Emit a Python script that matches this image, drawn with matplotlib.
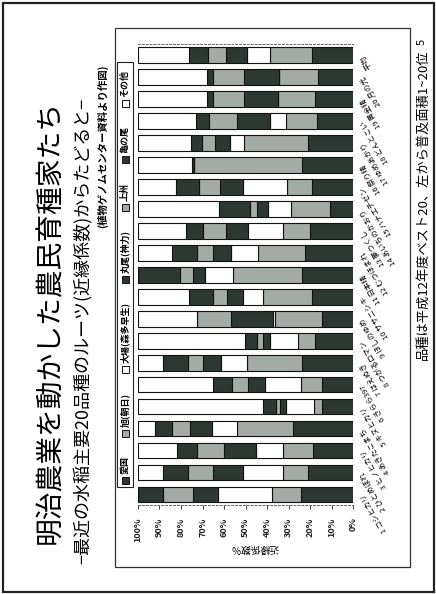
import numpy as np
import matplotlib
matplotlib.use("Agg")
import matplotlib.pyplot as plt
from matplotlib.patches import Rectangle

plt.rcParams['font.family'] = ['Noto Sans CJK JP', 'DejaVu Sans']

W, H = 436, 594

# varieties, rank 1 at the bottom of the (rotated) slide
varieties = ['1 コシヒカリ', '2 ひとめぼれ', '3 ヒノヒカリ', '4 あきたこまち', '5 キヌヒカリ',
             '6 きらら397', '7 はえぬき', '8 つがるロマン', '9 ほしのゆめ', '10 ササニシキ',
             '11 日本晴', '12 むつほまれ', '13 夢つくし', '14 あいちのかおり', '15 ハナエチゼン',
             '16 祭り晴', '17 ゆめあかり', '18 どんとこい', '19 黄金晴', '20 月の光', '平均']

groups = ['愛国', '旭(朝日)', '大場(森多早生)', '丸尾(神力)', '上州', '亀の尾', 'その他']

# 近縁係数 (%) per ancestor, same order as varieties
aikoku = [24.2, 20.9, 18.6, 27.9, 14.4, 14.4, 23.7, 17.7, 14.4, 19.1, 23.7,
          22.3, 20.0, 10.7, 19.1, 23.7, 20.9, 16.7, 17.7, 16.3, 19.1]
asahi = [13.5, 11.6, 14.0, 26.0, 3.7, 9.8, 25.6, 7.9, 21.9, 22.8, 32.1,
         21.9, 12.6, 18.1, 11.6, 50.2, 29.8, 14.4, 17.2, 18.1, 19.5]
ooba = [25.1, 18.6, 12.6, 11.6, 13.0, 16.7, 12.1, 13.0, 0.9, 9.3, 13.0,
        12.6, 16.3, 10.7, 20.5, 0.0, 6.5, 7.4, 0.0, 0.0, 10.7]
shinriki = [11.6, 14.0, 14.9, 10.2, 2.8, 7.9, 8.4, 3.3, 19.5, 7.4, 5.6,
            8.4, 10.2, 5.1, 10.7, 0.9, 7.0, 15.3, 15.8, 16.3, 9.8]
joshu = [14.0, 11.6, 12.6, 8.4, 1.9, 7.4, 7.0, 2.8, 15.8, 6.5, 6.0,
         7.4, 10.7, 3.3, 9.8, 0.0, 6.0, 13.0, 14.4, 14.4, 8.4]
kamenoo = [11.6, 11.6, 9.3, 7.9, 6.0, 8.8, 11.6, 5.6, 0.0, 11.2, 19.6,
           11.6, 7.9, 14.4, 10.7, 0.0, 5.1, 6.0, 2.8, 2.8, 8.8]
sonota = [0.0, 11.7, 18.0, 8.0, 58.2, 35.0, 11.6, 49.7, 27.5, 23.7, 0.0,
          15.8, 22.3, 37.7, 17.6, 25.2, 24.7, 27.2, 32.1, 32.1, 23.7]

series = [aikoku, asahi, ooba, shinriki, joshu, kamenoo, sonota]

DARK = '#2d3833'
GRAY = '#a4aba6'
colors = [DARK, GRAY, 'white', DARK, GRAY, DARK, 'white']


def fx(x):
    return x / W


def fy(y):
    return 1 - y / H


fig = plt.figure(figsize=(W / 100, H / 100), dpi=100)

# slide border and chart frame
fig.patches.append(Rectangle((fx(3), fy(592)), fx(431), 589 / H, transform=fig.transFigure,
                             fill=False, lw=1.6, ec='#222'))
fig.patches.append(Rectangle((fx(115), fy(567)), fx(295), 539 / H, transform=fig.transFigure,
                             fill=False, lw=0.9, ec='#333'))

# axes: x = 近縁係数 (100% left, 0% right), varieties bottom -> top
ax = fig.add_axes([fx(138), fy(505), fx(353) - fx(138), (505 - 44) / H])
ypos = np.arange(len(varieties))
left = np.zeros(len(varieties))
for vals, c in zip(series, colors):
    ax.barh(ypos, vals, left=left, height=0.72, color=c, edgecolor='#111', linewidth=0.8)
    left += np.array(vals)

ax.set_xlim(100, 0)
ax.set_ylim(-0.48, 20.5)
ticks = list(range(0, 101, 10))
ax.set_xticks(ticks)
ax.set_xticklabels([f'{t}%' for t in ticks], rotation=90, fontsize=6.5, fontweight='bold')
ax.tick_params(axis='x', direction='out', length=3, width=0.6, pad=6, colors='#222')

ax.set_yticks(ypos)
ax.yaxis.tick_right()
ax.set_yticklabels(varieties, rotation=120, ha='right', va='center',
                   rotation_mode='anchor', fontsize=5.5)
ax.tick_params(axis='y', length=0, pad=7)

for s in ['left', 'right']:
    ax.spines[s].set_visible(False)
for s in ['top', 'bottom']:
    ax.spines[s].set_linestyle((0, (2, 2)))
    ax.spines[s].set_linewidth(0.7)
    ax.spines[s].set_color('#666')

ax.set_xlabel('近縁係数%', rotation=180, fontsize=7, va='center')
ax.xaxis.set_label_coords((255 - 138) / 215, (505 - 548) / 461)

# titles (slide is turned on its side)
fig.text(fx(50), fy(322), '明治農業を動かした農民育種家たち', rotation=90,
         fontsize=20, ha='center', va='center')
fig.text(fx(82), fy(331), '−最近の水稲主要20品種のルーツ(近縁係数)からたどると−', rotation=90,
         fontsize=13, ha='center', va='center')
fig.text(fx(103), fy(146), '(植物ゲノムセンター資料より作図)', rotation=90,
         fontsize=7.5, ha='center', va='center', fontweight='bold')
fig.text(fx(423), fy(205), '品種は平成12年度ベスト20、左から普及面積1~20位', rotation=90,
         fontsize=9.5, ha='center', va='center')
fig.text(fx(422), fy(42), '5', rotation=90, fontsize=8, ha='center', va='center')

# legend, drawn by hand as it runs along the rotated slide
fig.patches.append(Rectangle((fx(117), fy(487)), fx(16), 425 / H, transform=fig.transFigure,
                             fill=False, lw=0.8, ec='#222'))
renderer = fig.canvas.get_renderer()
texts = []
for g in groups:
    t = fig.text(fx(125), 0.5, g, rotation=90, fontsize=6.5, fontweight='bold',
                 ha='left', va='center', rotation_mode='anchor')
    texts.append(t)
lengths = [t.get_window_extent(renderer).height for t in texts]
sym = 7
top, bottom = 70, 484
gap = (bottom - top - sum(lengths) - len(groups) * (sym + 3)) / (len(groups) - 1)
cur = bottom
for t, L, c in zip(texts, lengths, colors):
    fig.patches.append(Rectangle((fx(125 - sym / 2), fy(cur)), fx(sym), sym / H,
                                 transform=fig.transFigure, fc=c, ec='#111', lw=0.7))
    cur -= sym + 3
    t.set_position((fx(125), fy(cur)))
    cur -= L + gap

fig.savefig('out.png', dpi=100)
